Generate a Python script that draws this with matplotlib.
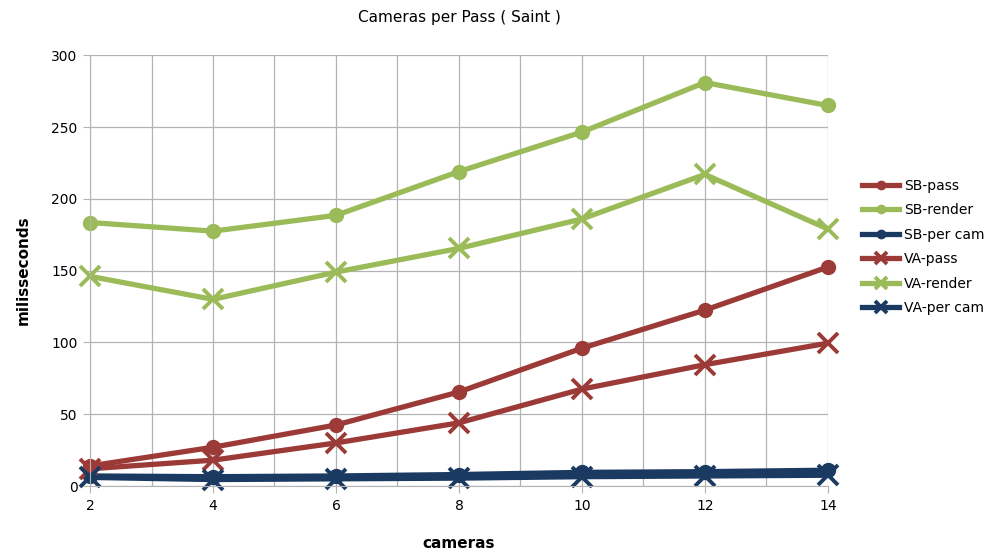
import matplotlib
matplotlib.use("Agg")
import matplotlib.pyplot as plt
from matplotlib.ticker import MultipleLocator

cameras = [2, 4, 6, 8, 10, 12, 14]

sb_pass = [14, 27, 42.5, 65.5, 96, 122.5, 152.5]
sb_render = [183.5, 177.5, 188.5, 219, 246.5, 281, 265]
sb_per_cam = [7, 6.5, 7, 8, 9.5, 10, 11]
va_pass = [12, 18, 30, 44, 67.5, 84.5, 99.5]
va_render = [146, 130, 149, 165.5, 186, 217, 179]
va_per_cam = [6, 4.5, 5, 5.5, 6.5, 7, 7.5]

red = "#9c3a37"
green = "#9bbb59"
navy = "#1b3a62"

plt.rcParams["font.family"] = ["DejaVu Sans"]

fig = plt.figure(figsize=(9.95, 5.58), dpi=100)
ax = fig.add_axes([0.0905, 0.129, 0.7415, 0.772])

lw = 3.8
ax.plot(cameras, sb_pass, color=red, lw=lw, marker="o", ms=10, label="SB-pass", clip_on=False)
ax.plot(cameras, sb_render, color=green, lw=lw, marker="o", ms=10, label="SB-render", clip_on=False)
ax.plot(cameras, sb_per_cam, color=navy, lw=lw, marker="o", ms=10, label="SB-per cam", clip_on=False)
ax.plot(cameras, va_pass, color=red, lw=lw, marker="x", ms=15, mew=2.8, label="VA-pass", clip_on=False)
ax.plot(cameras, va_render, color=green, lw=lw, marker="x", ms=15, mew=2.8, label="VA-render", clip_on=False)
ax.plot(cameras, va_per_cam, color=navy, lw=lw, marker="x", ms=15, mew=2.8, label="VA-per cam", clip_on=False)

ax.set_xlim(2, 14)
ax.set_ylim(0, 300)
ax.xaxis.set_major_locator(MultipleLocator(2))
ax.xaxis.set_minor_locator(MultipleLocator(1))
ax.yaxis.set_major_locator(MultipleLocator(50))
ax.grid(True, which="both", axis="x", color="#b3b3b3", lw=0.9)
ax.grid(True, which="major", axis="y", color="#b3b3b3", lw=0.9)
ax.set_axisbelow(True)

for side in ["top", "right"]:
    ax.spines[side].set_visible(False)
ax.spines["left"].set_color("#b3b3b3")
ax.spines["bottom"].set_color("#b3b3b3")
ax.tick_params(axis="both", which="major", color="#b3b3b3", length=5, labelsize=10, pad=4)
ax.tick_params(axis="x", which="minor", length=0)

ax.set_title("Cameras per Pass ( Saint )", fontsize=11, pad=24)
ax.set_xlabel("cameras", fontsize=11, fontweight="bold", labelpad=17)
ax.set_ylabel("milisseconds", fontsize=11, fontweight="bold", labelpad=15)

ax.legend(loc="center left", bbox_to_anchor=(1.03, 0.555), frameon=False,
          fontsize=10, handlelength=2.6, labelspacing=0.75, handletextpad=0.4,
          markerscale=0.6)

fig.savefig("out.png", dpi=100)
